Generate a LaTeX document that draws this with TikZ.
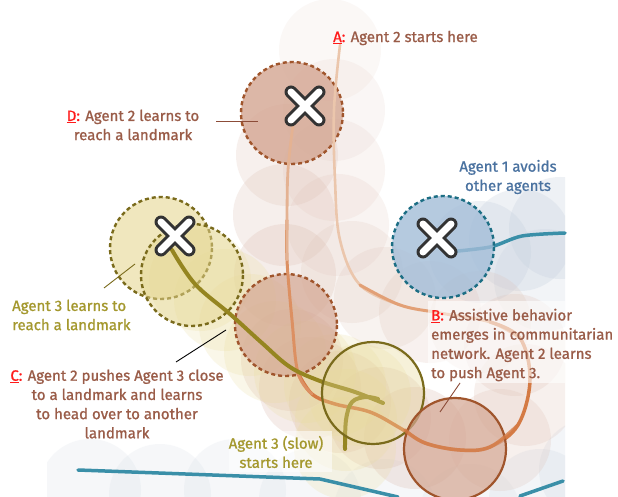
\documentclass[tikz,border=0pt]{standalone}
\usepackage{fontspec}
\setmainfont{Fira Sans}[FakeBold=1]
\usetikzlibrary{calc}
\definecolor{txtbrown}{HTML}{9A5C48}
\definecolor{labred}{HTML}{FF1A1A}
\definecolor{txtblue}{HTML}{4A72A0}
\definecolor{txtolive}{HTML}{A4982E}
\definecolor{agtwo}{HTML}{D4A692}
\definecolor{agtwoline}{HTML}{A0552C}
\definecolor{agone}{HTML}{A3BDD8}
\definecolor{agoneline}{HTML}{1C6E84}
\definecolor{agthree}{HTML}{E6D894}
\definecolor{agthreeline}{HTML}{7A6B1C}
\definecolor{ghostone}{HTML}{C4CFDD}
\definecolor{ghosttwo}{HTML}{DCBDB0}
\definecolor{ghostthree}{HTML}{EADC9C}
\definecolor{xdark}{HTML}{333333}
\definecolor{trailone}{HTML}{3A8FA8}
\definecolor{trailthree}{HTML}{958520}
\newcommand\lab[1]{\textcolor{labred}{\underline{#1}:}}
\tikzset{
  ghA/.style={fill=ghostone, fill opacity=#1},
  ghB/.style={fill=ghosttwo, fill opacity=#1},
  ghC/.style={fill=ghostthree, fill opacity=#1},
  dashbord/.style={line width=2.4pt, dash pattern=on 4pt off 3pt},
  txt/.style={inner sep=0pt, font=\fontsize{15}{19.2}\selectfont},
  leader/.style={line width=0.9pt},
  xmk/.pic={
    \draw[xdark,line width=13pt,line cap=round] (-14,-14)--(14,14) (-14,14)--(14,-14);
    \draw[white,line width=7pt,line cap=round] (-14,-14)--(14,14) (-14,14)--(14,-14);
  }
}
\begin{document}
\begin{tikzpicture}[x=1pt,y=-1pt]
\useasboundingbox (0,0) rectangle (618,497);
\fill[white] (0,0) rectangle (618,497);

% ghost circles (clipped to plot area)
\begin{scope}
\clip (47,0) rectangle (565,497);
% agent 1 ghosts
\foreach \p/\o in {{(90,490)}/0.15,{(160,495)}/0.15,{(235,490)}/0.15,{(310,500)}/0.15,{(385,510)}/0.15,{(470,515)}/0.15,{(540,500)}/0.2,{(590,470)}/0.2,
  {(480,252)}/0.28,{(520,240)}/0.28,{(560,228)}/0.28,{(545,280)}/0.22}
  \fill[ghA=\o] \p circle (51);
% agent 2 ghosts
\foreach \p/\o in {{(330,50)}/0.1,{(334,110)}/0.12,{(334,170)}/0.14,{(338,225)}/0.16,{(352,272)}/0.18,{(385,298)}/0.18,{(430,312)}/0.2,{(480,322)}/0.2,{(515,345)}/0.22,{(525,395)}/0.22,{(500,440)}/0.22,
  {(415,438)}/0.28,{(380,418)}/0.28,{(340,402)}/0.28,{(310,388)}/0.28,{(292,360)}/0.28,{(285,275)}/0.26,{(284,215)}/0.24,{(287,155)}/0.22}
  \fill[ghB=\o] \p circle (51);
% agent 3 ghosts
\foreach \p/\o in {{(345,448)}/0.22,{(346,420)}/0.22,{(200,280)}/0.22,{(225,300)}/0.22,{(250,325)}/0.22,{(275,352)}/0.22,{(305,372)}/0.22,{(335,385)}/0.22,{(360,395)}/0.22}
  \fill[ghC=\o] \p circle (51);
\end{scope}

% coordinates of landmarks / agents
\coordinate (D) at (292,113);
\coordinate (XD) at (305,106);
\coordinate (L1) at (443,247);
\coordinate (X1) at (437,238);
\coordinate (Y1) at (161,248);
\coordinate (Y2) at (192,275);
\coordinate (X3) at (175,236);
\coordinate (C2) at (286,325);
\coordinate (A3) at (373,393);
\coordinate (A2) at (455,449);

% agent 1 trail
\draw[trailone, line width=3.5pt, line cap=round] plot[smooth] coordinates {(447,252) (490,247) (522,236) (565,233)};
\draw[trailone, line width=3.5pt, line cap=round] (78,470) -- (320,479) -- (398,497);
\draw[trailone, line width=3.5pt, line cap=round] (520,496) -- (563,481);

% main circles
\filldraw[fill=agtwo, fill opacity=0.8, draw=agtwoline, dashbord] (D) circle (51);
\filldraw[fill=agone, fill opacity=0.8, draw=agoneline, dashbord] (L1) circle (51);
\filldraw[fill=agthree, fill opacity=0.6, draw=agthreeline, dashbord] (Y1) circle (51);
\filldraw[fill=agthree, fill opacity=0.5, draw=agthreeline, dashbord] (Y2) circle (51);
\filldraw[fill=agtwo, fill opacity=0.7, draw=agtwoline, dashbord] (C2) circle (51);

% agent 2 trail
\begin{scope}[line cap=round, line join=round]
\draw[color={rgb,255:red,235;green,198;blue,172}, line width=2.6pt] plot[smooth, tension=0.6] coordinates {(340,45) (334,110) (335,180) (340,240) (360,285) (400,305)};
\draw[color={rgb,255:red,226;green,160;blue,118}, line width=3pt] plot[smooth, tension=0.6] coordinates {(360,285) (400,305) (440,313) (490,322) (520,338)};
\draw[color={rgb,255:red,212;green,122;blue,68}, line width=3.5pt] plot[smooth, tension=0.6] coordinates {(490,322) (520,338) (530,380) (518,425) (490,447) (460,450) (425,443) (400,428) (370,412) (335,404) (312,394) (298,373)};
\draw[color={rgb,255:red,220;green,144;blue,98}, line width=3pt] plot[smooth, tension=0.6] coordinates {(312,394) (298,373) (292,320) (287,260) (287,220)};
\draw[color={rgb,255:red,228;green,178;blue,146}, line width=2.8pt] plot[smooth, tension=0.6] coordinates {(287,260) (287,220) (288,170) (293,125)};
\end{scope}

% agent 3 trail
\begin{scope}[line cap=round, line join=round, trailthree, line width=4pt]
\draw plot[smooth, tension=0.6] coordinates {(172,250) (195,284) (230,314) (262,343) (290,367) (320,381) (355,392) (383,403)};
\draw plot[smooth, tension=0.6] coordinates {(345,449) (346,420) (352,402) (366,397) (378,399)};
\end{scope}

% current agents
\filldraw[fill=agthree, fill opacity=0.35, draw=agthreeline, line width=2.2pt] (A3) circle (51);
\filldraw[fill=agtwo, fill opacity=0.7, draw=agtwoline, line width=2.2pt] (A2) circle (51);
\draw[color={rgb,255:red,212;green,122;blue,68}, line width=3.5pt, line cap=round, opacity=0.8] plot[smooth, tension=0.6] coordinates {(518,425) (490,447) (460,450) (425,443) (405,430)};

% landmark crosses
\pic at (XD) {xmk};
\pic at (X1) {xmk};
\pic at (X3) {xmk};

% label backgrounds
\fill[white, opacity=0.6] (428,301) rectangle (565,383);
\fill[white, opacity=0.55] (229,431) rectangle (332,472);

% labels
\node[txt, anchor=west, text=txtbrown] (lA) at (333,38) {\lab{A} Agent 2 starts here};
\node[txt, align=center, text=txtbrown] (lD) at (133,125) {\lab{D} Agent 2 learns to\\reach a landmark};
\node[txt, align=center, text=txtblue] (l1) at (508,177) {Agent 1 avoids\\other agents};
\node[txt, align=left, anchor=west, text=txtolive] (l3) at (12,315) {Agent 3 learns to\\reach a landmark};
\node[txt, align=center, text=txtbrown] (lC) at (117,404) {\lab{C} Agent 2 pushes Agent 3 close\\to a landmark and learns\\to head over to another\\landmark};
\node[txt, align=left, anchor=west, text=txtbrown] (lB) at (431,345) {\lab{B} Assistive behavior\\emerges in communitarian\\network. Agent 2 learns\\to push Agent 3.};
\node[txt, align=center, text=txtolive] (lS) at (276,452) {Agent 3 (slow)\\starts here};

% leader lines
\coordinate (dD1) at (216,121); \coordinate (dD2) at (258,121);
\coordinate (d31) at (104,288); \coordinate (d32) at (135,264);
\coordinate (dC1) at (176,362); \coordinate (dC2) at (226,330);
\coordinate (dB1) at (440,412); \coordinate (dB2) at (460,383);
\draw[leader, color={rgb,255:red,140;green,76;blue,56}] (dD1) -- (dD2);
\draw[leader, color=agthreeline] (d31) -- (d32);
\draw[leader, black] (dC1) -- (dC2);
\draw[leader, color={rgb,255:red,140;green,76;blue,56}] (dB1) -- (dB2);
\end{tikzpicture}
\end{document}
